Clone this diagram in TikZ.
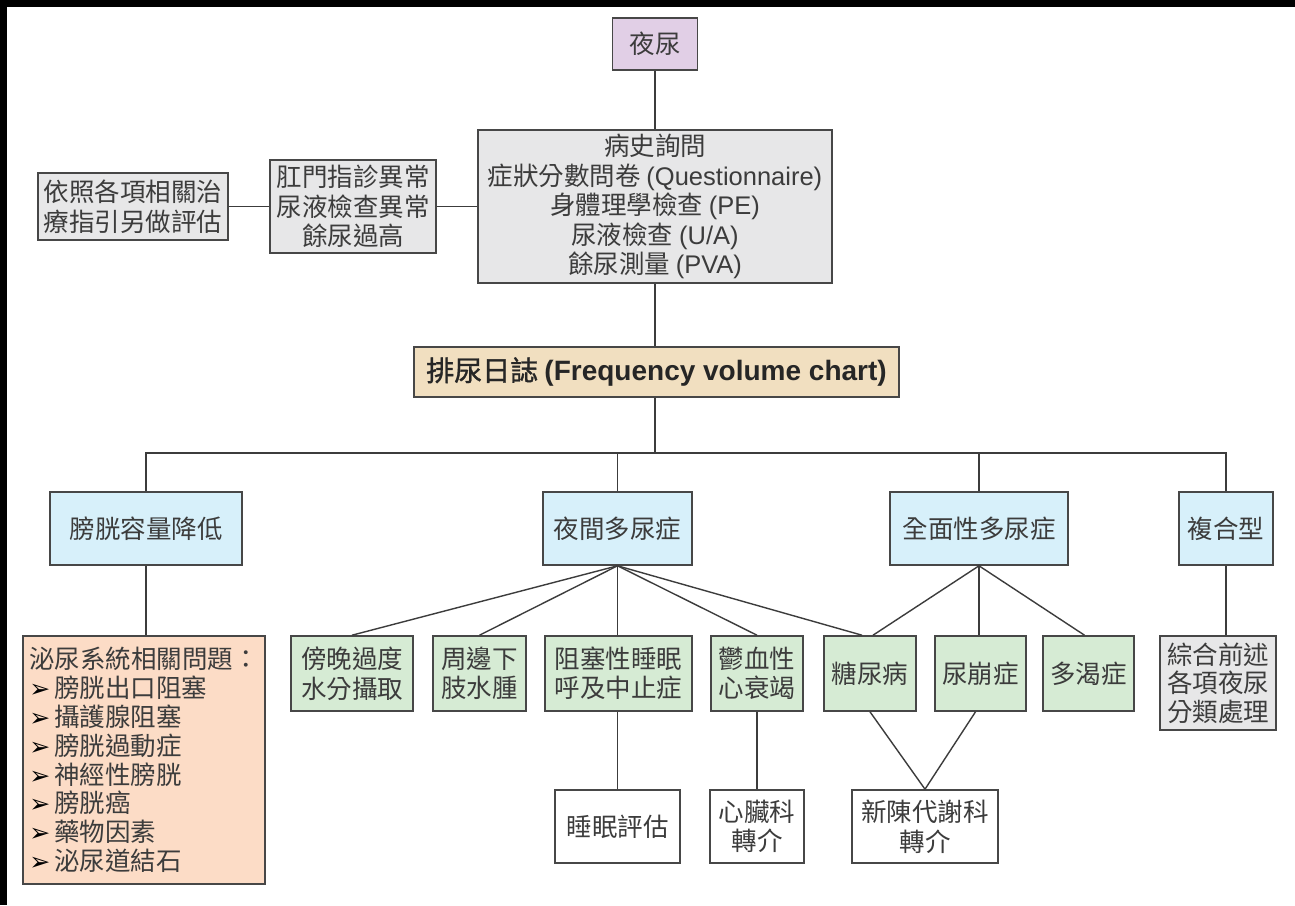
\documentclass[tikz,border=0pt]{standalone}
\usepackage{fontspec}
\setmainfont{Noto Sans CJK TC}
\newfontfamily\lat{Liberation Sans}
\newfontfamily\cjkbf[FakeBold=1.2]{Noto Sans CJK TC}
\newfontfamily\dvs{DejaVu Sans}

\definecolor{edge}{HTML}{474747}
\definecolor{ink}{HTML}{3C3C3C}
\definecolor{lavender}{HTML}{E1CFE6}
\definecolor{greybox}{HTML}{E7E7E8}
\definecolor{tan}{HTML}{F1DFC0}
\definecolor{skyblue}{HTML}{D7F0FA}
\definecolor{peach}{HTML}{FCDCC6}
\definecolor{mint}{HTML}{D6EBD4}

\newcommand{\bul}{\makebox[25pt][l]{\dvs\fontsize{25}{25}\selectfont\color{black}➢}}

\begin{document}
\begin{tikzpicture}[x=1pt,y=-1pt,
  box/.style={draw=edge, line width=1.6pt, inner sep=0pt, align=center,
    text=ink, font=\fontsize{25.5}{29.5}\selectfont},
  link/.style={draw=edge!85!black, line width=1.4pt}]

% page and its dark frame strips
\fill[white] (0,0) rectangle (1295,905);
\fill[black] (0,0) rectangle (1295,7);
\fill[black] (0,0) rectangle (7,905);
\useasboundingbox (0,0) rectangle (1295,905);

% upper part
\node[box, fill=lavender, minimum width=85pt, minimum height=52pt] (ye) at (655,44) {夜尿};
\node[box, fill=greybox, minimum width=354pt, minimum height=153pt] (hist) at (655,206.5)
  {病史詢問\\症狀分數問卷 {\lat (Questionnaire)}\\身體理學檢查 {\lat (PE)}\\尿液檢查 {\lat (U/A)}\\餘尿測量 {\lat (PVA)}};
\node[box, fill=greybox, minimum width=166pt, minimum height=93pt] (gang) at (353,206.5)
  {肛門指診異常\\尿液檢查異常\\餘尿過高};
\node[box, fill=greybox, minimum width=190pt, minimum height=67pt] (yi) at (133,206.5)
  {依照各項相關治\\療指引另做評估};
\node[box, fill=tan, minimum width=485pt, minimum height=50pt, text=black!85,
  font=\fontsize{28}{32}\selectfont] (diary) at (656.5,372)
  {{\cjkbf 排尿日誌} {\lat\bfseries (Frequency volume chart)}};

% four categories
\node[box, fill=skyblue, minimum width=192pt, minimum height=73pt] (b1) at (146,528.5) {膀胱容量降低};
\node[box, fill=skyblue, minimum width=149pt, minimum height=73pt] (b2) at (617.5,528.5) {夜間多尿症};
\node[box, fill=skyblue, minimum width=178pt, minimum height=73pt] (b3) at (979,528.5) {全面性多尿症};
\node[box, fill=skyblue, minimum width=94pt, minimum height=73pt] (b4) at (1226,528.5) {複合型};

% causes
\node[box, fill=peach, minimum width=242pt, minimum height=248pt, align=left,
  font=\fontsize{25.5}{28.8}\selectfont] (uro) at (144,760)
  {泌尿系統相關問題：\\\bul 膀胱出口阻塞\\\bul 攝護腺阻塞\\\bul 膀胱過動症\\\bul 神經性膀胱\\\bul 膀胱癌\\\bul 藥物因素\\\bul 泌尿道結石};
\node[box, fill=mint, minimum width=122pt, minimum height=75pt] (g1) at (352,673.5) {傍晚過度\\水分攝取};
\node[box, fill=mint, minimum width=93pt, minimum height=75pt] (g2) at (479.5,673.5) {周邊下\\肢水腫};
\node[box, fill=mint, minimum width=147pt, minimum height=75pt] (g3) at (618.5,673.5) {阻塞性睡眠\\呼及中止症};
\node[box, fill=mint, minimum width=92pt, minimum height=75pt] (g4) at (757,673.5) {鬱血性\\心衰竭};
\node[box, fill=mint, minimum width=92pt, minimum height=75pt] (g5) at (870,673.5) {糖尿病};
\node[box, fill=mint, minimum width=91pt, minimum height=75pt] (g6) at (980.5,673.5) {尿崩症};
\node[box, fill=mint, minimum width=91pt, minimum height=75pt] (g7) at (1088.5,673.5) {多渴症};
\node[box, fill=greybox, minimum width=116pt, minimum height=94pt,
  font=\fontsize{25.5}{28.5}\selectfont] (mix) at (1218,683) {綜合前述\\各項夜尿\\分類處理};

% referrals
\node[box, fill=white, minimum width=125pt, minimum height=73pt] (w1) at (617.5,826.5) {睡眠評估};
\node[box, fill=white, minimum width=94pt, minimum height=73pt] (w2) at (757,826.5) {心臟科\\轉介};
\node[box, fill=white, minimum width=146pt, minimum height=73pt] (w3) at (925,826.5) {新陳代謝科\\轉介};

% connectors
\coordinate (bus) at (0,453);
\draw[link] (ye.south) -- (hist.north);
\draw[link] (yi.east) -- (gang.west);
\draw[link] (gang.east) -- (hist.west);
\draw[link] (hist.south) -- (hist.south |- diary.north);
\draw[link] (hist.south |- diary.south) -- (hist.south |- bus);
\draw[link] (b1.north) -- (b1.north |- bus) -- (b4.north |- bus) -- (b4.north);
\draw[link] (b2.north) -- (b2.north |- bus);
\draw[link] (b3.north) -- (b3.north |- bus);
\draw[link] (b1.south) -- (b1.south |- uro.north);
\draw[link] (b4.south) -- (b4.south |- mix.north);
\draw[link] (b2.south) -- (g1.north);
\draw[link] (b2.south) -- (g2.north);
\draw[link] (b2.south) -- (b2.south |- g3.north);
\draw[link] (b2.south) -- (g4.north);
\draw[link] (b2.south) -- ([xshift=-8pt]g5.north);
\draw[link] (b3.south) -- ([xshift=3pt]g5.north);
\draw[link] (b3.south) -- (b3.south |- g6.north);
\draw[link] (b3.south) -- ([xshift=-4pt]g7.north);
\draw[link] (w1.north |- g3.south) -- (w1.north);
\draw[link] (g4.south) -- (w2.north);
\draw[link] (g5.south) -- (w3.north);
\draw[link] ([xshift=-5pt]g6.south) -- (w3.north);
\end{tikzpicture}
\end{document}
